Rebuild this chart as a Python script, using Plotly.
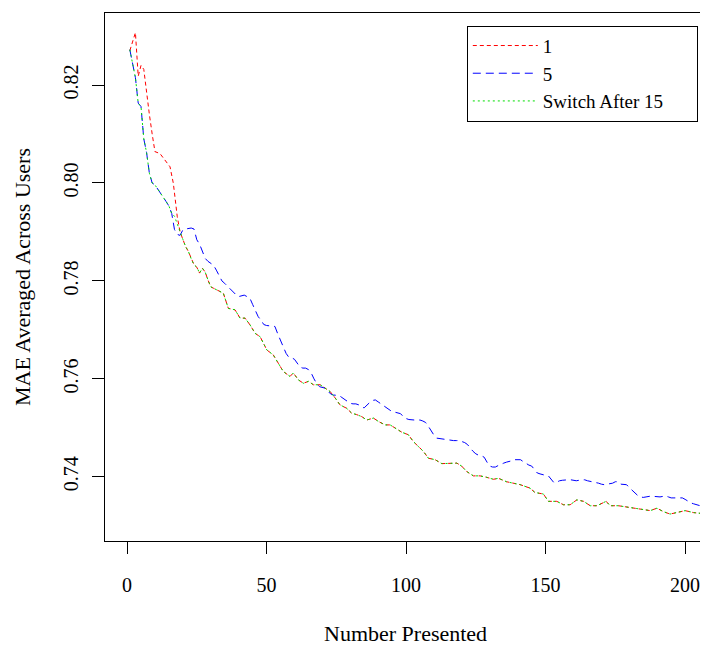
import plotly.graph_objects as go

# Series "1"
red_x = [1,2,3,4,5,6,7,8,9,10,11.8,13.4,15.4,16.6,18,19,20,21,22,23,24,25,26,27,28,29,30,31,32,33,
         34.5,36.3,38.7,40.5,42.3,44.1,45.9,47.7,50.1,52.4,54.2,56,58.4,59.6,61.4,63.2,65,66.8,69.2,71,
         72.8,74.6,76.3,78.7,80.5,82.3,84.1,85.9,88.3,90.1,92.5,94.3,96.7,98.5,100.8,102.6,104.4,106.2,108,110.4,
         112.8,114.6,116.4,118.2,119.9,121.7,124.1,126.5,128.9,131.3,133.1,136,140.9,144.4,146.2,149.2,151,154,156.4,158.8,
         161.2,163.6,166,168.4,171.7,173.1,176.1,179.1,181.5,185.1,187.5,189.9,192.2,194.6,197,200,203,206,208]
red_y = [0.8270,0.8290,0.8307,0.8218,0.8240,0.8232,0.8180,0.8140,0.8100,0.8064,0.8060,0.8047,0.8033,0.7999,
         0.7931,0.7900,0.7885,0.7870,0.7860,0.7845,0.7833,0.7828,0.7816,0.7826,0.7818,0.7802,0.7788,0.7785,0.7782,0.7780,
         0.7775,0.7744,0.7741,0.7724,0.7724,0.7710,0.7693,0.7686,0.7659,0.7649,0.7632,0.7615,0.7605,0.7612,0.7598,
         0.7591,0.7595,0.7588,0.7588,0.7581,0.7574,0.7561,0.7547,0.7540,0.7530,0.7527,0.7523,0.7516,0.7520,0.7513,
         0.7506,0.7506,0.7498,0.7491,0.7486,0.7472,0.7462,0.7452,0.7438,0.7435,0.7427,0.7427,0.7428,0.7428,0.7422,
         0.7411,0.7402,0.7402,0.7399,0.7395,0.7397,0.7390,0.7384,0.7377,0.7368,0.7365,0.7350,0.7350,0.7343,0.7343,
         0.7353,0.7350,0.7341,0.7341,0.7350,0.7341,0.7341,0.7338,0.7336,0.7333,0.7331,0.7336,0.7329,0.7324,0.7327,
         0.7331,0.7327,0.7326,0.7324]

# Series "5"
blue_x = list(range(1, 209))
blue_y = [0.8272,0.8240,0.8215,0.8163,0.8156,0.8090,0.8062,0.8020,0.8000,0.7996,
          0.7988,0.7980,0.7970,0.7962,0.7953,0.7938,0.7905,0.7895,0.7893,0.7904,
          0.7906,0.7907,0.7908,0.7906,0.7884,0.7875,0.7862,0.7846,0.7840,0.7835,
          0.7832,0.7822,0.7810,0.7800,0.7795,0.7789,0.7783,0.7778,0.7772,0.7768,
          0.7770,0.7771,0.7768,0.7765,0.7752,0.7740,0.7727,0.7720,0.7711,0.7709,
          0.7708,0.7708,0.7707,0.7692,0.7678,0.7663,0.7652,0.7644,0.7643,0.7640,
          0.7632,0.7624,0.7622,0.7622,0.7619,0.7612,0.7600,0.7590,0.7584,0.7583,
          0.7581,0.7575,0.7569,0.7567,0.7567,0.7566,0.7562,0.7558,0.7553,0.7550,
          0.7549,0.7549,0.7547,0.7542,0.7541,0.7547,0.7552,0.7556,0.7557,0.7553,
          0.7549,0.7545,0.7540,0.7537,0.7533,0.7532,0.7531,0.7529,0.7523,0.7519,
          0.7517,0.7516,0.7516,0.7516,0.7516,0.7514,0.7511,0.7503,0.7494,0.7485,
          0.7479,0.7478,0.7477,0.7476,0.7475,0.7475,0.7474,0.7474,0.7474,0.7472,
          0.7470,0.7466,0.7458,0.7452,0.7447,0.7444,0.7443,0.7440,0.7430,0.7422,
          0.7420,0.7420,0.7423,0.7426,0.7428,0.7430,0.7431,0.7433,0.7435,0.7435,
          0.7435,0.7431,0.7427,0.7424,0.7422,0.7414,0.7408,0.7406,0.7404,0.7403,
          0.7402,0.7395,0.7388,0.7389,0.7392,0.7393,0.7394,0.7394,0.7394,0.7393,
          0.7392,0.7393,0.7394,0.7394,0.7392,0.7391,0.7389,0.7388,0.7387,0.7385,
          0.7384,0.7385,0.7386,0.7387,0.7390,0.7390,0.7385,0.7384,0.7384,0.7378,
          0.7372,0.7366,0.7362,0.7359,0.7358,0.7359,0.7360,0.7361,0.7360,0.7359,
          0.7359,0.7360,0.7361,0.7359,0.7357,0.7357,0.7357,0.7357,0.7357,0.7354,
          0.7350,0.7347,0.7345,0.7343,0.7341,0.7340,0.7339,0.7339]

# Series "Switch After 15"
green_x = [1,2,3,4,5,6,7,8,9,10,11,12,13,14,15,16,17,18,19,20,21,22,23,24,25,26,27,28,29,30,31,32,33,
           34.5,36.3,38.7,40.5,42.3,44.1,45.9,47.7,50.1,52.4,54.2,56,58.4,59.6,61.4,63.2,65,66.8,69.2,71,
           72.8,74.6,76.3,78.7,80.5,82.3,84.1,85.9,88.3,90.1,92.5,94.3,96.7,98.5,100.8,102.6,104.4,106.2,108,110.4,
           112.8,114.6,116.4,118.2,119.9,121.7,124.1,126.5,128.9,131.3,133.1,136,140.9,144.4,146.2,149.2,151,154,156.4,158.8,
           161.2,163.6,166,168.4,171.7,173.1,176.1,179.1,181.5,185.1,187.5,189.9,192.2,194.6,197,200,203,206,208]
green_y = [0.8272,0.8240,0.8215,0.8163,0.8156,0.8090,0.8062,0.8020,0.8000,0.7996,
           0.7988,0.7980,0.7970,0.7962,0.7953,0.7938,0.7932,0.7915,0.7898,
           0.7885,0.7870,0.7860,0.7845,0.7833,0.7828,0.7816,0.7826,0.7818,0.7802,0.7788,0.7785,0.7782,0.7780,
           0.7775,0.7744,0.7741,0.7724,0.7724,0.7710,0.7693,0.7686,0.7659,0.7649,0.7632,0.7615,0.7605,0.7612,0.7598,
           0.7591,0.7595,0.7588,0.7588,0.7581,0.7574,0.7561,0.7547,0.7540,0.7530,0.7527,0.7523,0.7516,0.7520,0.7513,
           0.7506,0.7506,0.7498,0.7491,0.7486,0.7472,0.7462,0.7452,0.7438,0.7435,0.7427,0.7427,0.7428,0.7428,0.7422,
           0.7411,0.7402,0.7402,0.7399,0.7395,0.7397,0.7390,0.7384,0.7377,0.7368,0.7365,0.7350,0.7350,0.7343,0.7343,
           0.7353,0.7350,0.7341,0.7341,0.7350,0.7341,0.7341,0.7338,0.7336,0.7333,0.7331,0.7336,0.7329,0.7324,0.7327,
           0.7331,0.7327,0.7326,0.7324]

series_names = ["1", "5", "Switch After 15"]
x_ticks = [0, 50, 100, 150, 200]
y_ticks = [0.74, 0.76, 0.78, 0.80, 0.82]
y_tick_text = ["0.74", "0.76", "0.78", "0.80", "0.82"]

FONT = "Liberation Serif"
PAD = "\u00a0" * 6  # invisible trailing space to widen the legend box

fig = go.Figure()
fig.add_trace(go.Scatter(x=red_x, y=red_y, mode="lines", name=series_names[0],
                         line=dict(color="#FF0000", width=1, dash="4px,3px")))
fig.add_trace(go.Scatter(x=blue_x, y=blue_y, mode="lines", name=series_names[1],
                         line=dict(color="#0000FF", width=1, dash="8px,5px")))
fig.add_trace(go.Scatter(x=green_x, y=green_y, mode="lines", name=series_names[2] + PAD,
                         line=dict(color="#00DD00", width=1, dash="2px,3px")))

fig.update_layout(
    width=700, height=639,
    margin=dict(l=97, r=0, t=5, b=106),
    plot_bgcolor="white", paper_bgcolor="white",
    font=dict(family=FONT, size=20, color="black"),
    showlegend=True,
    legend=dict(x=0.600, y=0.976, xanchor="left", yanchor="top",
                bordercolor="black", borderwidth=1, bgcolor="white",
                itemwidth=65,
                font=dict(family=FONT, size=19, color="black")),
    xaxis=dict(range=[-7.9, 208.2], tickvals=x_ticks, ticks="outside", ticklen=12,
               tickcolor="black", showline=True, mirror=True, linecolor="black", linewidth=1,
               showgrid=False, zeroline=False, ticklabelstandoff=14,
               tickfont=dict(family=FONT, size=20)),
    yaxis=dict(range=[0.7269, 0.8347], tickvals=y_ticks, ticktext=y_tick_text, ticks="outside", ticklen=12,
               tickcolor="black", showline=True, mirror=True, linecolor="black", linewidth=1,
               showgrid=False, zeroline=False, tickangle=-90, ticklabelstandoff=6,
               tickfont=dict(family=FONT, size=20)),
    annotations=[
        dict(text="Number Presented", xref="paper", yref="paper", x=0.499, y=-0.176,
             xanchor="center", yanchor="middle", showarrow=False, font=dict(family=FONT, size=22)),
        dict(text="MAE Averaged Across Users", xref="paper", yref="paper", x=-0.1376, y=0.5,
             xanchor="center", yanchor="middle", textangle=-90, showarrow=False,
             font=dict(family=FONT, size=22)),
    ],
)

fig.write_html("out.html")
